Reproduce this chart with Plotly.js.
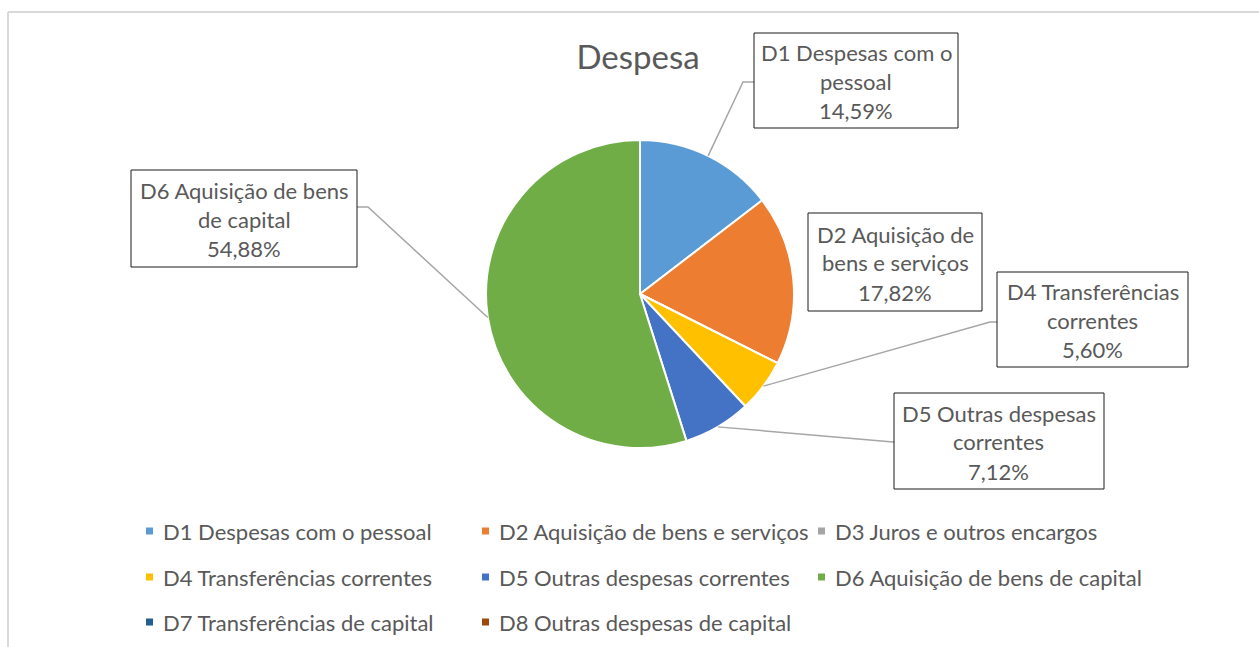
<!DOCTYPE html>
<html>
<head>
<meta charset="utf-8">
<script src="https://cdn.plot.ly/plotly-3.0.1.min.js"></script>
<style>html,body{margin:0;padding:0;background:#fff;}#chart{width:1259px;height:647px;}</style>
</head>
<body>
<div id="chart"></div>
<script>
// ---- data ----
const categories = [
  "D1 Despesas com o pessoal",
  "D2 Aquisição de bens e serviços",
  "D3 Juros e outros encargos",
  "D4 Transferências correntes",
  "D5 Outras despesas correntes",
  "D6 Aquisição de bens de capital",
  "D7 Transferências de capital",
  "D8 Outras despesas de capital"
];
const values = [14.59, 17.82, 0, 5.60, 7.12, 54.88, 0, 0];
const colors = ["#5B9BD5", "#ED7D31", "#A5A5A5", "#FFC000", "#4472C4", "#70AD47", "#255E91", "#9E480E"];
const chartTitle = "Despesa";
// wrapped label text (first lines) for callouts
const labelWrap = {
  0: ["D1 Despesas com o", "pessoal"],
  1: ["D2 Aquisição de", "bens e serviços"],
  3: ["D4 Transferências", "correntes"],
  4: ["D5 Outras despesas", "correntes"],
  5: ["D6 Aquisição de bens", "de capital"]
};

// ---- layout helpers ----
const W = 1259, H = 647;
const X = px => px / W;
const Y = py => 1 - py / H;
const FONT = "Lato, 'Open Sans', sans-serif";
const TXT = "#595959";

const cx = 640, cy = 294, R = 154;

// callout boxes [left, top, right, bottom] and leader elbows (layout)
const callouts = {
  0: {box: [754, 33, 958, 128], elbow: [[743, 82], [754, 82]]},
  1: {box: [808, 213, 982, 311], elbow: null},
  3: {box: [997, 272, 1188, 367], elbow: [[990, 322], [997, 322]]},
  4: {box: [894, 393, 1104, 489], elbow: [[893, 442], [894, 442]]},
  5: {box: [131, 170, 357, 267], elbow: [[368, 207], [357, 207]]}
};

const total = values.reduce((a, b) => a + b, 0);
const fmtPct = v => v.toFixed(2).replace('.', ',') + '%';

const shapes = [];
const annotations = [];

// frame
shapes.push({type: 'line', xref: 'paper', yref: 'paper', x0: X(8), x1: X(1259), y0: Y(12), y1: Y(12), line: {color: '#d9d9d9', width: 2}});
shapes.push({type: 'line', xref: 'paper', yref: 'paper', x0: X(8), x1: X(8), y0: Y(12), y1: Y(647), line: {color: '#d9d9d9', width: 2}});

// callouts
let cum = 0;
values.forEach((v, i) => {
  const mid = (cum + v / 2) / total * 2 * Math.PI;
  cum += v;
  const c = callouts[i];
  if (!c) return;
  const ex = cx + R * Math.sin(mid), ey = cy - R * Math.cos(mid);
  if (c.elbow) {
    let d = `M${X(ex)},${Y(ey)}`;
    c.elbow.forEach(p => { d += ` L${X(p[0])},${Y(p[1])}`; });
    shapes.push({type: 'path', xref: 'paper', yref: 'paper', path: d, line: {color: '#a6a6a6', width: 1.5}});
  }
  const [l, t, r, b] = c.box;
  shapes.push({type: 'rect', xref: 'paper', yref: 'paper', x0: X(l), x1: X(r), y0: Y(b), y1: Y(t), line: {color: '#1a1a1a', width: 1}, fillcolor: 'rgba(255,255,255,0)'});
  const lines = labelWrap[i].concat([fmtPct(v)]);
  const mcy = (t + b) / 2 + 1;
  lines.forEach((s, k) => {
    annotations.push({xref: 'paper', yref: 'paper', x: X((l + r) / 2), y: Y(mcy + (k - 1) * 29), xanchor: 'center', yanchor: 'middle', text: s, showarrow: false, font: {family: FONT, size: 22, color: TXT}});
  });
});

// custom legend
const colX = [146, 482, 818], rowY = [531, 577, 622];
categories.forEach((name, i) => {
  const col = i % 3, row = Math.floor(i / 3);
  const mx = colX[col], my = rowY[row];
  shapes.push({type: 'rect', xref: 'paper', yref: 'paper', x0: X(mx), x1: X(mx + 7), y0: Y(my + 3.5), y1: Y(my - 3.5), line: {width: 0}, fillcolor: colors[i]});
  annotations.push({xref: 'paper', yref: 'paper', x: X(mx + 15), y: Y(my), xanchor: 'left', yanchor: 'middle', text: name, showarrow: false, font: {family: FONT, size: 22, color: TXT}});
});

const trace = {
  type: 'pie',
  labels: categories,
  values: values,
  sort: false,
  direction: 'clockwise',
  rotation: 0,
  marker: {colors: colors, line: {color: '#ffffff', width: 2}},
  textinfo: 'none',
  hoverinfo: 'label+percent',
  showlegend: false,
  domain: {x: [X(cx - R), X(cx + R)], y: [Y(cy + R), Y(cy - R)]}
};

const layout = {
  width: W, height: H,
  margin: {l: 0, r: 0, t: 0, b: 0},
  paper_bgcolor: '#ffffff',
  showlegend: false,
  title: {text: chartTitle, x: X(638), y: Y(57), xanchor: 'center', yanchor: 'middle', xref: 'paper', yref: 'paper', font: {family: FONT, size: 33, color: TXT}},
  shapes: shapes,
  annotations: annotations
};

Plotly.newPlot('chart', [trace], layout, {displayModeBar: false, staticPlot: true});
</script>
</body>
</html>
